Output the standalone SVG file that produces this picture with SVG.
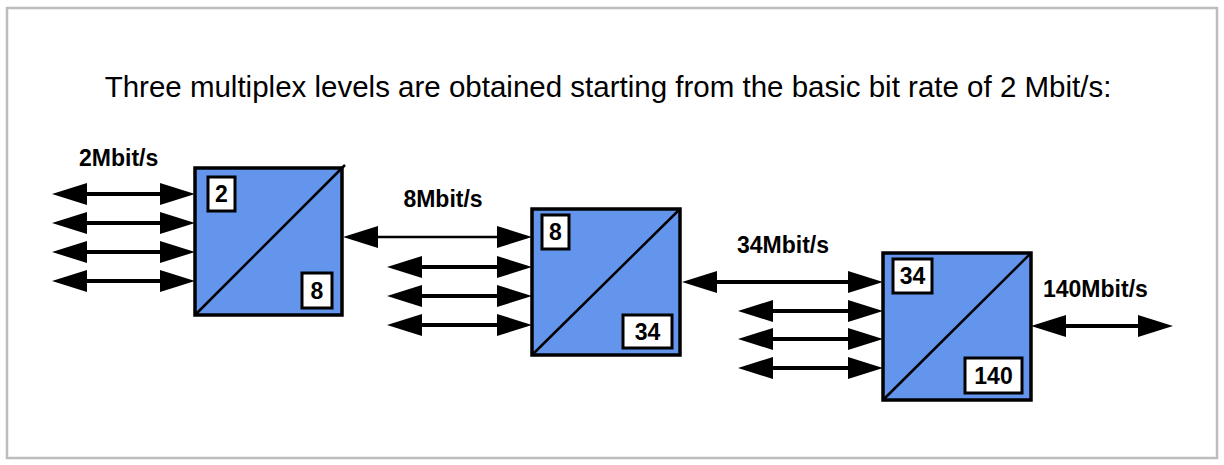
<svg xmlns="http://www.w3.org/2000/svg" width="1224" height="465" viewBox="0 0 1224 465">
  <defs>
    <marker id="ah" markerUnits="userSpaceOnUse" markerWidth="35" markerHeight="22" refX="0" refY="11" orient="auto-start-reverse" overflow="visible">
      <path d="M0,0 L35,11 L0,22 Z" fill="#000"/>
    </marker>
  </defs>
  <style>
    .frame { fill: #fff; stroke: #bdbdbd; stroke-width: 2.5; }
    .title { font-family: "Liberation Sans", Arial, sans-serif; font-size: 29.5px; fill: #000; }
    .rate { font-family: "Liberation Sans", Arial, sans-serif; font-size: 23px; font-weight: bold; fill: #000; }
    .mux { fill: #6495ED; stroke: #000; stroke-width: 3.5; }
    .diag { stroke: #000; stroke-width: 2.5; }
    .tag { fill: #fff; stroke: #000; stroke-width: 3; }
    .num { font-family: "Liberation Sans", Arial, sans-serif; font-size: 23px; font-weight: bold; fill: #000; text-anchor: middle; }
    .link { stroke: #000; stroke-width: 4; fill: none; marker-start: url(#ah); marker-end: url(#ah); }
    .thin { stroke-width: 2.5; }
  </style>

  <rect class="frame" x="7" y="8" width="1210" height="450"/>
  <text class="title" x="608" y="97" text-anchor="middle">Three multiplex levels are obtained starting from the basic bit rate of 2 Mbit/s:</text>

  <g id="mux1">
    <rect class="mux" x="195" y="168" width="147" height="147"/>
    <line class="diag" x1="195" y1="315" x2="345" y2="165"/>
    <rect class="tag" x="208" y="177" width="27" height="34"/>
    <text class="num" x="221.5" y="202">2</text>
    <rect class="tag" x="302" y="273" width="30" height="35"/>
    <text class="num" x="317" y="299">8</text>
  </g>

  <g id="mux2">
    <rect class="mux" x="532" y="209" width="148" height="146"/>
    <line class="diag" x1="532" y1="355" x2="680" y2="209"/>
    <rect class="tag" x="542" y="215" width="27" height="34"/>
    <text class="num" x="555.5" y="240">8</text>
    <rect class="tag" x="623" y="315" width="49" height="33"/>
    <text class="num" x="647.5" y="340">34</text>
  </g>

  <g id="mux3">
    <rect class="mux" x="883" y="253" width="148" height="147"/>
    <line class="diag" x1="883" y1="400" x2="1031" y2="253"/>
    <rect class="tag" x="893" y="259" width="39" height="34"/>
    <text class="num" x="912.5" y="284">34</text>
    <rect class="tag" x="965" y="358" width="57" height="35"/>
    <text class="num" x="993.5" y="384">140</text>
  </g>

  <g id="labels">
    <text class="rate" x="79" y="166">2Mbit/s</text>
    <text class="rate" x="443" y="207" text-anchor="middle">8Mbit/s</text>
    <text class="rate" x="737" y="253">34Mbit/s</text>
    <text class="rate" x="1043" y="297">140Mbit/s</text>
  </g>

  <g id="connectors">
    <line class="link" x1="87" y1="194" x2="160" y2="194"/>
    <line class="link" x1="87" y1="223" x2="160" y2="223"/>
    <line class="link" x1="87" y1="252" x2="160" y2="252"/>
    <line class="link" x1="87" y1="281" x2="160" y2="281"/>

    <line class="link thin" x1="378" y1="237" x2="497" y2="237"/>
    <line class="link" x1="422" y1="267" x2="497" y2="267"/>
    <line class="link" x1="422" y1="296" x2="497" y2="296"/>
    <line class="link" x1="422" y1="325" x2="497" y2="325"/>

    <line class="link" x1="717" y1="282" x2="848" y2="282"/>
    <line class="link" x1="773" y1="311" x2="848" y2="311"/>
    <line class="link" x1="773" y1="339" x2="848" y2="339"/>
    <line class="link" x1="773" y1="368" x2="848" y2="368"/>

    <line class="link" x1="1066" y1="326" x2="1138" y2="326"/>
  </g>
</svg>
